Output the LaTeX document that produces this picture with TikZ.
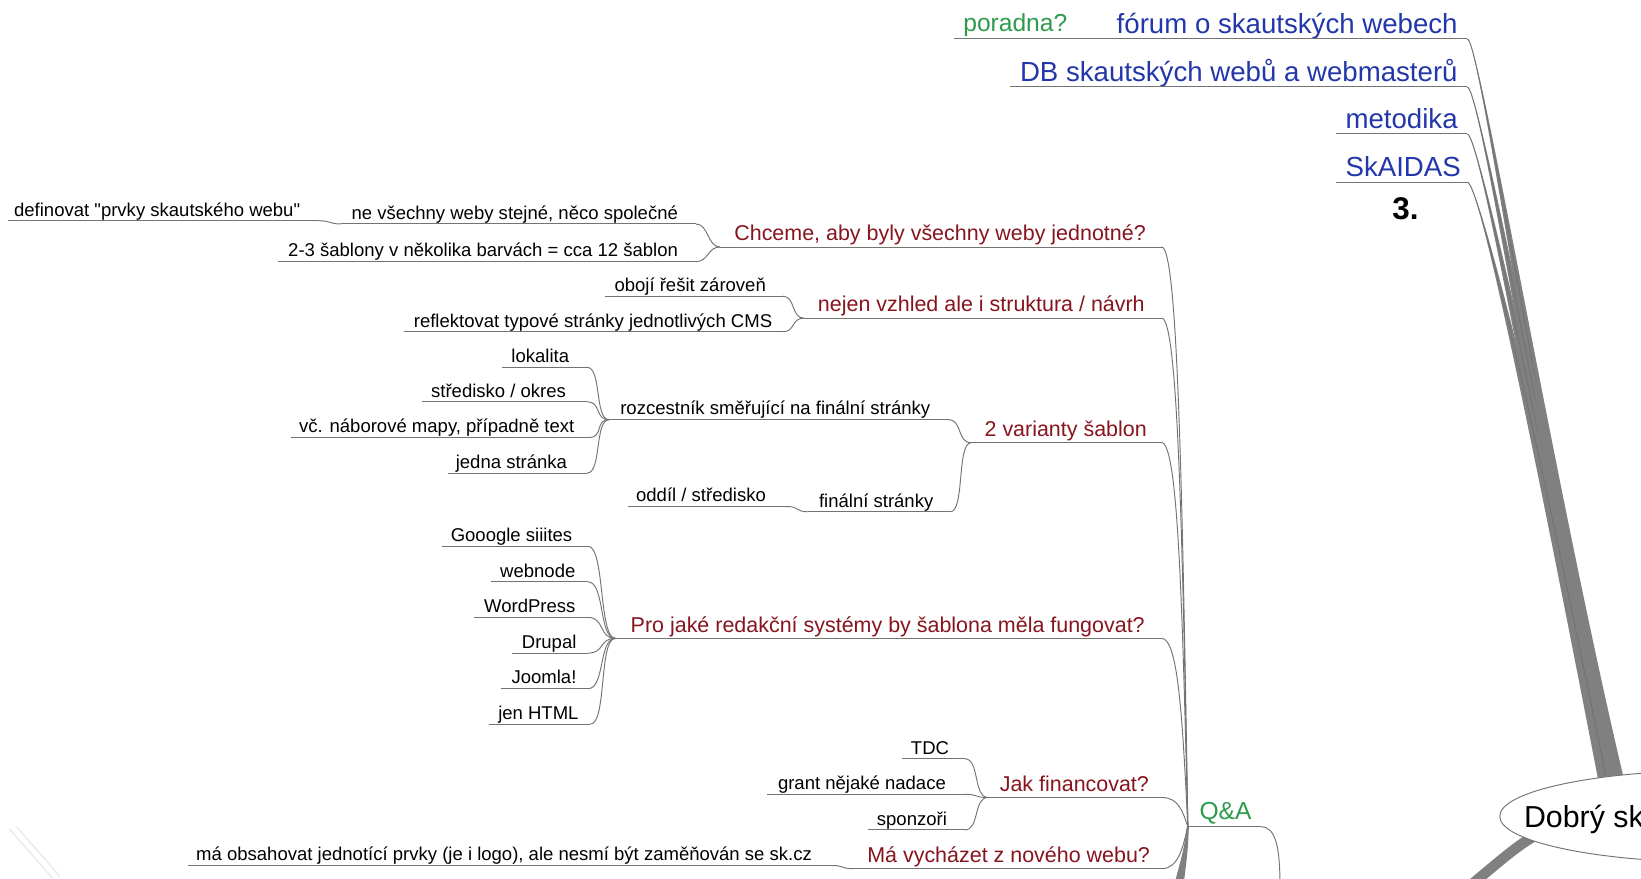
\documentclass[tikz,border=0pt]{standalone}
\usepackage{fontspec}
\setmainfont{Liberation Sans}[Ligatures=TeXOff]
\usetikzlibrary{calc,shapes.geometric}
\definecolor{cblue}{RGB}{35,55,170}
\definecolor{cgreen}{RGB}{45,155,75}
\definecolor{cred}{RGB}{135,20,30}
\definecolor{cline}{RGB}{115,115,115}
\definecolor{ctrunk}{RGB}{128,128,128}
\newcommand\mmtopic[7]{%
  \coordinate (#1-L) at (#3,#6);
  \coordinate (#1-R) at (#4,#6);
  \node[#2] (#1) at (#5,#6) {#7};
  \draw[ln] (#1-L) -- (#1-R);}
\newcommand\conn[3]{\draw[ln] (#1-R) .. controls +(#3,0) and +(-#3,0) .. (#2-L);}
\newcommand\hubconn[2]{\draw[ln] (#1-R) .. controls +(16,0) and +(-5,#2) .. (qa-L);}
\newcommand\trunkbranch[2]{%
  \fill[ctrunk] (#1-R) .. controls +(12,0) and (1472,460) .. (#2-8,750) -- (#2+8,750) .. controls (1484,460) and +(12,0) .. (#1-R) -- cycle;
  \draw[ln] (#1-R) .. controls +(12,0) and (1478,460) .. (#2,750);}
\begin{document}
\begin{tikzpicture}[x=1pt,y=-1pt,
  ln/.style={draw=cline, line width=0.9pt},
  txt/.style={inner sep=0pt, anchor=base east},
  blktxt/.style={txt, font=\fontsize{17.7}{20}\selectfont, text=black, yshift=4.5pt},
  redtxt/.style={txt, font=\fontsize{20.5}{24}\selectfont, text=cred, yshift=6pt},
  blutxt/.style={txt, font=\fontsize{26.4}{30}\selectfont, text=cblue, yshift=5pt},
  grntxt/.style={txt, font=\fontsize{23.5}{28}\selectfont, text=cgreen, yshift=7pt}]
\useasboundingbox (0,0) rectangle (1568,839);
\clip (0,0) rectangle (1568,839);
\fill[white] (0,0) rectangle (1568,839);
% faint marks bottom left
\draw[black!7, line width=1.6pt] (9,792) -- (50,839);
\draw[black!7, line width=1.6pt] (16,790) -- (57,837);
% top right topics
\mmtopic{forum}{blutxt}{1050}{1402}{1393}{37}{fórum o skautských webech}
\mmtopic{poradna}{grntxt}{912}{1036}{1020}{37}{poradna?}
\draw[ln] (poradna-R) -- (forum-L);
\mmtopic{db}{blutxt}{965}{1402}{1393}{83}{DB skautských webů a webmasterů}
\mmtopic{metodika}{blutxt}{1277}{1402}{1393}{128}{metodika}
\mmtopic{skaidas}{blutxt}{1277}{1402}{1396}{174}{SkAIDAS}
\node[inner sep=0pt, font=\bfseries\fontsize{30}{34}\selectfont] (n3) at (1343,199) {3.};
% trunk to central topic
\trunkbranch{forum}{1545}
\trunkbranch{db}{1542}
\trunkbranch{metodika}{1539}
\trunkbranch{skaidas}{1536}
\coordinate (qatrunk) at (1398,852);
\draw[ctrunk, line width=10pt] (1490,786) .. controls (1455,804) .. (qatrunk);
\node[ellipse, draw=cline, fill=white, line width=0.9pt, minimum width=420pt, minimum height=88pt, inner sep=0pt] (central) at (1643,780) {};
\node[inner sep=0pt, anchor=base west, font=\fontsize{29}{34}\selectfont] (centraltxt) at (1456,791) {Dobrý sk};
% Q&A branch
\mmtopic{chceme}{redtxt}{688}{1110}{1095}{236}{Chceme, aby byly všechny weby jednotné?}
\mmtopic{nejen}{redtxt}{768}{1110}{1094}{304}{nejen vzhled ale i struktura / návrh}
\mmtopic{varianty}{redtxt}{928}{1110}{1096}{423}{2 varianty šablon}
\mmtopic{pro}{redtxt}{588}{1110}{1094}{610}{Pro jaké redakční systémy by šablona měla fungovat?}
\mmtopic{jak}{redtxt}{944}{1110}{1098}{762}{Jak financovat?}
\mmtopic{ma}{redtxt}{815}{1110}{1099}{830}{Má vycházet z nového webu?}
\mmtopic{qa}{grntxt}{1135}{1205}{1196}{790}{Q\&A}
\coordinate (qaout) at (1223,845);
\draw[ln] (qa-R) .. controls +(14,0) and +(0,-35) .. (qaout);
\fill[ctrunk] ($(qa-L)+(-1,0)$) .. controls (1131,812) .. (1122,845) -- (1131,845) .. controls (1135,812) .. ($(qa-L)+(1,0)$) -- cycle;
\hubconn{chceme}{-300}
\hubconn{nejen}{-265}
\hubconn{varianty}{-200}
\hubconn{pro}{-100}
\hubconn{jak}{-15}
\hubconn{ma}{20}
% children
\mmtopic{nevse}{blktxt}{326}{665}{648}{214}{ne všechny weby stejné, něco společné}
\mmtopic{defin}{blktxt}{8}{305}{287}{211}{definovat "prvky skautského webu"}
\mmtopic{sablony}{blktxt}{266}{665}{648}{250}{2-3 šablony v několika barvách = cca 12 šablon}
\mmtopic{oboji}{blktxt}{578}{748}{732}{283}{obojí řešit zároveň}
\mmtopic{reflekt}{blktxt}{386}{748}{738}{317}{reflektovat typové stránky jednotlivých CMS}
\mmtopic{rozc}{blktxt}{582}{906}{889}{401}{rozcestník směřující na finální stránky}
\mmtopic{lokalita}{blktxt}{480}{561}{544}{351}{lokalita}
\mmtopic{stred}{blktxt}{403}{561}{541}{384}{středisko / okres}
\mmtopic{vc}{blktxt}{278}{563}{549}{418}{vč. náborové mapy, případně text}
\mmtopic{jedna}{blktxt}{428}{561}{542}{452}{jedna stránka}
\mmtopic{final}{blktxt}{772}{908}{892}{489}{finální stránky}
\mmtopic{oddil}{blktxt}{600}{752}{732}{484}{oddíl / středisko}
\mmtopic{google}{blktxt}{422}{562}{547}{522}{Gooogle siiites}
\mmtopic{webnode}{blktxt}{469}{562}{550}{556}{webnode}
\mmtopic{wp}{blktxt}{453}{562}{550}{590}{WordPress}
\mmtopic{drupal}{blktxt}{489}{562}{551}{624}{Drupal}
\mmtopic{joomla}{blktxt}{479}{562}{551}{658}{Joomla!}
\mmtopic{html}{blktxt}{467}{564}{553}{692}{jen HTML}
\mmtopic{tdc}{blktxt}{862}{922}{907}{725}{TDC}
\mmtopic{grant}{blktxt}{733}{922}{904}{759}{grant nějaké nadace}
\mmtopic{sponz}{blktxt}{829}{922}{905}{793}{sponzoři}
\mmtopic{obsah}{blktxt}{180}{795}{776}{827}{má obsahovat jednotící prvky (je i logo), ale nesmí být zaměňován se sk.cz}
\conn{defin}{nevse}{12}
\conn{nevse}{chceme}{12}
\conn{sablony}{chceme}{12}
\conn{oboji}{nejen}{12}
\conn{reflekt}{nejen}{12}
\conn{lokalita}{rozc}{14}
\conn{stred}{rozc}{14}
\conn{vc}{rozc}{14}
\conn{jedna}{rozc}{14}
\conn{rozc}{varianty}{14}
\conn{final}{varianty}{14}
\conn{oddil}{final}{12}
\conn{google}{pro}{16}
\conn{webnode}{pro}{16}
\conn{wp}{pro}{16}
\conn{drupal}{pro}{16}
\conn{joomla}{pro}{16}
\conn{html}{pro}{16}
\conn{tdc}{jak}{14}
\conn{grant}{jak}{14}
\conn{sponz}{jak}{14}
\conn{obsah}{ma}{12}
\end{tikzpicture}
\end{document}
